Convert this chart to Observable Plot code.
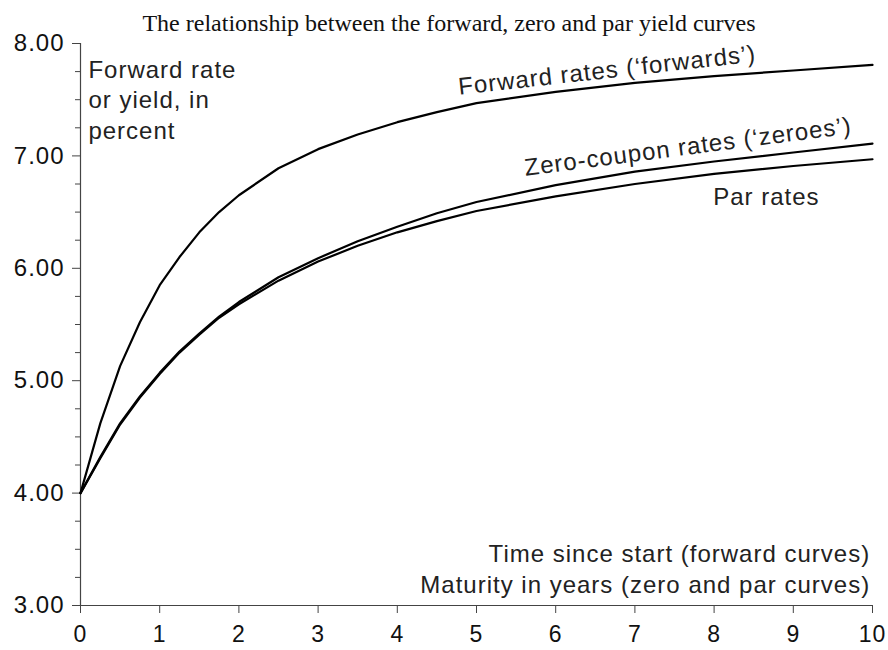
<!DOCTYPE html>
<html>
<head>
<meta charset="utf-8">
<script src="https://cdn.jsdelivr.net/npm/d3@7"></script>
<script src="https://cdn.jsdelivr.net/npm/@observablehq/plot@0.6"></script>
<style>
  html, body { margin: 0; padding: 0; background: #fff; }
  #title { width: 888px; height: 30px; text-align: center; font-family: "Liberation Serif", "Times New Roman", serif; font-size: 24px; line-height: 24px; color: #111; box-sizing: border-box; padding-top: 11px; padding-left: 10px; white-space: nowrap; }
  #chart svg { display: block; }
  #chart svg text { letter-spacing: 1px; }
</style>
</head>
<body>
<div id="title">The relationship between the forward, zero and par yield curves</div>
<div id="chart"></div>
<script>
const years    = [0, 0.25, 0.5, 0.75, 1, 1.25, 1.5, 1.75, 2, 2.5, 3, 3.5, 4, 4.5, 5, 6, 7, 8, 9, 10];
const forwards = [4.00, 4.62, 5.13, 5.52, 5.85, 6.10, 6.32, 6.50, 6.65, 6.89, 7.06, 7.19, 7.30, 7.39, 7.47, 7.57, 7.65, 7.71, 7.76, 7.81];
const zeroes   = [4.00, 4.32, 4.62, 4.86, 5.07, 5.26, 5.42, 5.57, 5.70, 5.92, 6.09, 6.24, 6.37, 6.49, 6.59, 6.74, 6.86, 6.95, 7.03, 7.11];
const parRates = [4.00, 4.31, 4.61, 4.85, 5.06, 5.25, 5.41, 5.56, 5.68, 5.89, 6.06, 6.20, 6.32, 6.42, 6.51, 6.64, 6.75, 6.84, 6.91, 6.97];

const xTicks = [0, 1, 2, 3, 4, 5, 6, 7, 8, 9, 10];
const yTicks = [3, 4, 5, 6, 7, 8];
const yMinorTicks = [3.25, 3.5, 3.75, 4.25, 4.5, 4.75, 5.25, 5.5, 5.75, 6.25, 6.5, 6.75, 7.25, 7.5, 7.75];

const seriesNames = ["forwards", "zeroes", "par"];
const seriesValues = [forwards, zeroes, parRates];
const rows = seriesNames.flatMap((name, i) => years.map((t, j) => ({series: name, t, v: seriesValues[i][j]})));

const curveLabels = [
  {text: "Forward rates (\u2018forwards\u2019)", t: 6.65, v: 7.76, rotate: -6.4},
  {text: "Zero-coupon rates (\u2018zeroes\u2019)", t: 7.67, v: 7.08, rotate: -7.4},
  {text: "Par rates", t: 8.66, v: 6.63, rotate: 0}
];
const yLabel = [{text: "Forward rate\nor yield, in\npercent", t: 0.1, v: 7.89}];
const xLabel = [{text: "Time since start (forward curves)\nMaturity in years (zero and par curves)", t: 9.97, v: 3.11}];

const FONT = "Liberation Sans, Arial, Helvetica, sans-serif";
const textColor = "#222";
const axisColor = "#444";
const FS = 24;

const chart = Plot.plot({
  width: 888,
  height: 620,
  marginLeft: 80,
  marginRight: 16,
  marginTop: 13,
  marginBottom: 45,
  style: {fontFamily: FONT, background: "#fff", color: textColor},
  x: {domain: [0, 10]},
  y: {domain: [3, 8]},
  marks: [
    Plot.axisY({ticks: yMinorTicks, tickSize: 5, tickFormat: () => "", stroke: axisColor, strokeOpacity: 1, label: null}),
    Plot.axisY({ticks: yTicks, tickSize: 8, tickPadding: 8, tickFormat: d => d.toFixed(2), fontSize: FS, stroke: axisColor, strokeOpacity: 1, fill: "#111", label: null}),
    Plot.axisX({ticks: xTicks, tickSize: 8, tickPadding: 12, tickFormat: d => String(d), fontSize: 23, stroke: axisColor, strokeOpacity: 1, fill: "#111", label: null}),
    Plot.ruleX([0], {stroke: axisColor, strokeWidth: 1.2}),
    Plot.ruleY([3], {stroke: axisColor, strokeWidth: 1.2}),
    Plot.line(rows, {x: "t", y: "v", z: "series", stroke: "#000", strokeWidth: 2.2}),
    Plot.text(curveLabels, {x: "t", y: "v", text: "text", rotate: "rotate", fontSize: FS, fill: textColor, textAnchor: "middle", lineAnchor: "middle"}),
    Plot.text(yLabel, {x: "t", y: "v", text: "text", fontSize: FS, fill: textColor, textAnchor: "start", lineAnchor: "top", lineHeight: 1.28}),
    Plot.text(xLabel, {x: "t", y: "v", text: "text", fontSize: FS, fill: textColor, textAnchor: "end", lineAnchor: "bottom", lineHeight: 1.28})
  ]
});
document.getElementById("chart").appendChild(chart);
</script>
</body>
</html>
